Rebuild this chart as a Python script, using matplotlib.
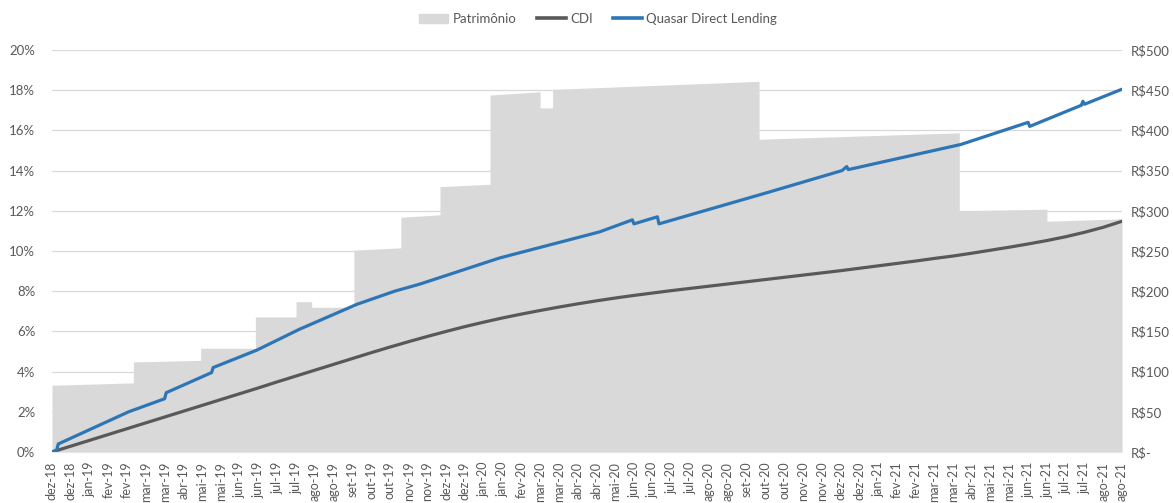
import numpy as np
import matplotlib
matplotlib.use("Agg")
import matplotlib.pyplot as plt
from matplotlib.patches import Patch
from matplotlib.lines import Line2D

plt.rcParams['font.family'] = ['Lato', 'DejaVu Sans']

# eixo x: dias úteis, um rótulo a cada 12 dias úteis
rotulos = ["dez-18", "dez-18", "jan-19", "fev-19", "fev-19", "mar-19", "mar-19", "abr-19",
           "mai-19", "mai-19", "jun-19", "jun-19", "jul-19", "jul-19", "ago-19", "ago-19",
           "set-19", "out-19", "out-19", "nov-19", "nov-19", "dez-19", "dez-19", "jan-20",
           "jan-20", "fev-20", "mar-20", "mar-20", "abr-20", "abr-20", "mai-20", "jun-20",
           "jun-20", "jul-20", "jul-20", "ago-20", "ago-20", "set-20", "out-20", "out-20",
           "nov-20", "nov-20", "dez-20", "dez-20", "jan-21", "fev-21", "fev-21", "mar-21",
           "mar-21", "abr-21", "mai-21", "mai-21", "jun-21", "jun-21", "jul-21", "jul-21",
           "ago-21", "ago-21"]
passo_rotulo = 12

# CDI acumulado (%) em cada rótulo
cdi_pct = [0.00, 0.29, 0.58, 0.87, 1.16, 1.45, 1.74, 2.03, 2.32, 2.61,
           2.90, 3.19, 3.49, 3.78, 4.07, 4.36, 4.65, 4.94, 5.22, 5.49,
           5.75, 6.00, 6.24, 6.46, 6.67, 6.86, 7.04, 7.21, 7.37, 7.52,
           7.66, 7.79, 7.91, 8.03, 8.14, 8.25, 8.36, 8.47, 8.58, 8.69,
           8.80, 8.91, 9.02, 9.14, 9.26, 9.38, 9.50, 9.63, 9.75, 9.89,
           10.04, 10.19, 10.35, 10.52, 10.71, 10.93, 11.18, 11.48]

# Quasar Direct Lending acumulado (%) - dia útil / valor
quasar_dia = [0, 3, 4, 49, 72, 73, 102, 103, 131, 158, 195, 219, 235, 286, 350,
              371, 372, 387, 388, 457, 505, 508, 509, 581, 624, 625, 658, 659, 660, 684]
quasar_pct = [0.0, 0.1, 0.4, 2.0, 2.65, 2.95, 3.95, 4.2, 5.07, 6.1, 7.35, 8.0, 8.35, 9.65, 10.95,
              11.55, 11.35, 11.7, 11.35, 12.9, 14.0, 14.2, 14.05, 15.3, 16.4, 16.2, 17.25, 17.45, 17.3, 18.05]

# Patrimônio (R$) - dia útil / valor
patr_dia = [0, 52, 52, 95, 95, 130, 130, 156, 156, 166, 166, 193, 193, 223, 223, 248, 248,
            280, 280, 312, 312, 320, 320, 452, 452, 580, 580, 636, 636, 684]
patr_val = [83, 86, 112, 114, 129, 129, 168, 168, 187, 187, 180, 180, 251, 254, 292, 295, 330,
            333, 444, 448, 428, 428, 451, 461, 389, 397, 300, 302, 287, 290]

cinza_area = '#D9D9D9'
cinza_cdi = '#595959'
azul = '#2E75B6'
cor_texto = '#595959'
fs = 9.5
lw = 2.3

fig = plt.figure(figsize=(11.73, 5.03), dpi=100)
ax2 = fig.add_axes([52 / 1173, 51 / 503, 1070 / 1173, 402 / 503])
ax = ax2.twinx()

# área de patrimônio no eixo da direita (atrás)
ax2.fill_between(patr_dia, 0, patr_val, color=cinza_area, linewidth=0, zorder=2)
ax2.set_ylim(0, 500)
ax2.set_yticks(np.arange(0, 501, 50))
ax2.yaxis.tick_right()
ax2.set_yticklabels(['R$-'] + [f'R${v}' for v in range(50, 501, 50)])
ax2.grid(axis='y', color='#D9D9D9', linewidth=0.9)
ax2.set_axisbelow(True)

# linhas no eixo da esquerda (na frente)
cdi_dia = np.arange(len(cdi_pct)) * passo_rotulo
ax.plot(cdi_dia, cdi_pct, color=cinza_cdi, linewidth=lw, solid_capstyle='round', zorder=3)
ax.plot(quasar_dia, quasar_pct, color=azul, linewidth=lw, solid_capstyle='round', zorder=4)
ax.set_ylim(0, 20)
ax.set_yticks(np.arange(0, 21, 2))
ax.yaxis.tick_left()
ax.set_yticklabels([f'{v}%' for v in range(0, 21, 2)])
ax.set_zorder(ax2.get_zorder() + 1)
ax.patch.set_visible(False)

ax2.set_xlim(0, 684)
ax2.set_xticks(np.arange(len(rotulos)) * passo_rotulo)
ax2.set_xticklabels(rotulos, rotation=90)
ax2.set_xticks(np.arange(0, 685, 2), minor=True)

for a in (ax, ax2):
    for s in a.spines.values():
        s.set_visible(False)
ax2.spines['bottom'].set_visible(True)
ax2.spines['bottom'].set_color('#E6E6E6')
ax2.tick_params(axis='x', which='major', length=0, pad=7, labelsize=fs - 0.5, labelcolor=cor_texto)
ax2.tick_params(axis='x', which='minor', length=3, direction='in', color='#EBEBEB')
ax2.tick_params(axis='y', length=0, pad=6, labelsize=fs, labelcolor=cor_texto)
ax.tick_params(axis='y', length=0, pad=12, labelsize=fs, labelcolor=cor_texto)

handles = [Patch(color=cinza_area),
           Line2D([0], [0], color=cinza_cdi, linewidth=lw + 0.3),
           Line2D([0], [0], color=azul, linewidth=lw + 0.3)]
leg = fig.legend(handles, ['Patrimônio', 'CDI', 'Quasar Direct Lending'],
                 loc='center', bbox_to_anchor=(0.51, 0.962), ncol=3, frameon=False,
                 fontsize=fs, handlelength=2.2, handletextpad=0.35, columnspacing=1.5)
for t in leg.get_texts():
    t.set_color(cor_texto)

fig.savefig('out.png', dpi=100)
